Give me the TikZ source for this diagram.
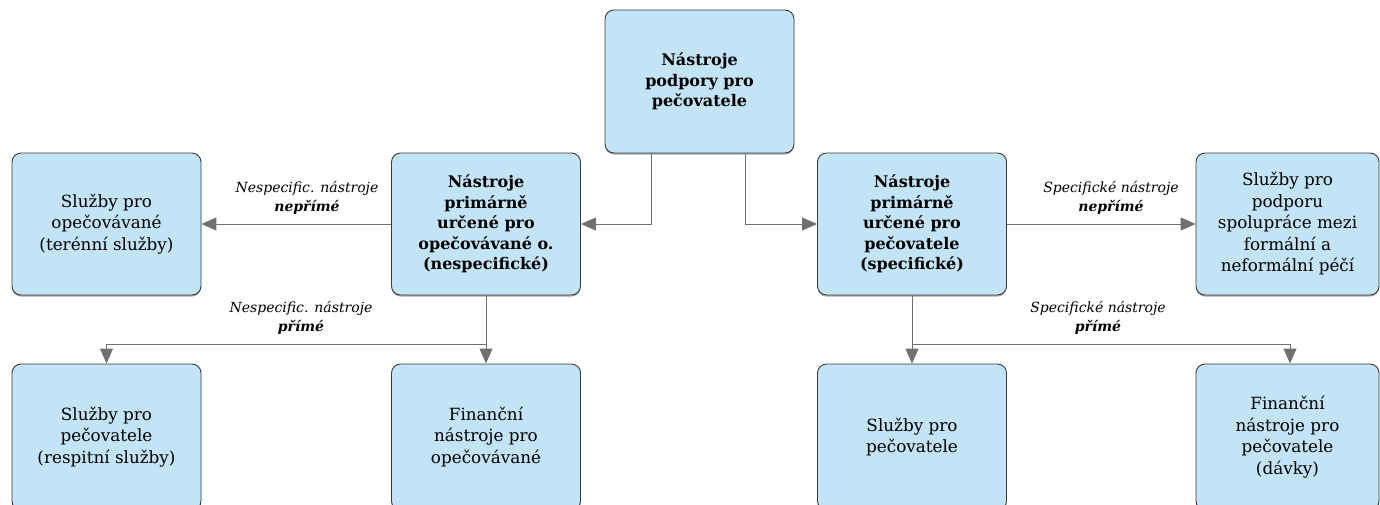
\documentclass[tikz,border=0pt]{standalone}
\usepackage{fontspec}
\setmainfont{DejaVu Serif}
\usetikzlibrary{arrows.meta,shadows}
\definecolor{boxfill}{HTML}{C2E4F6}
\definecolor{boxline}{HTML}{3A3A3A}
\definecolor{conncol}{HTML}{707070}
\tikzset{
  box/.style={draw=boxline, line width=0.9pt, fill=boxfill, rounded corners=9pt,
    align=center, inner sep=0pt, font=\fontsize{16.8}{21.5}\selectfont,
    drop shadow={shadow xshift=0pt, shadow yshift=-1.5pt, opacity=0.35, fill=black}},
  bbox/.style={box, font=\fontsize{16}{20.6}\selectfont\bfseries},
  conn/.style={draw=conncol, line width=1pt,
    -{Triangle[width=13pt,length=15pt]}, color=conncol},
  lbl/.style={align=center, font=\fontsize{14}{19}\selectfont\itshape, inner sep=0pt}
}
\begin{document}
\begin{tikzpicture}[x=1pt,y=-1pt]
\useasboundingbox (0,0) rectangle (1380,504);
\node[bbox, minimum width=189pt, minimum height=143pt] (top) at (699.5,81.5)
  {Nástroje\\podpory pro\\pečovatele};
\node[box, minimum width=189pt, minimum height=142pt] (A) at (106.5,224)
  {Služby pro\\opečovávané\\(terénní služby)};
\node[bbox, minimum width=189pt, minimum height=142pt] (B) at (486,224)
  {Nástroje\\primárně\\určené pro\\opečovávané o.\\(nespecifické)};
\node[bbox, minimum width=189pt, minimum height=142pt] (C) at (912,224)
  {Nástroje\\primárně\\určené pro\\pečovatele\\(specifické)};
\node[box, minimum width=183pt, minimum height=142pt] (D) at (1287.5,224)
  {Služby pro\\podporu\\spolupráce mezi\\formální a\\neformální péčí};
\node[box, minimum width=189pt, minimum height=146pt] (E) at (106.5,437)
  {Služby pro\\pečovatele\\(respitní služby)};
\node[box, minimum width=189pt, minimum height=146pt] (F) at (486,437)
  {Finanční\\nástroje pro\\opečovávané};
\node[box, minimum width=189pt, minimum height=146pt] (G) at (912,437)
  {Služby pro\\pečovatele};
\node[box, minimum width=183pt, minimum height=146pt] (H) at (1287.5,437)
  {Finanční\\nástroje pro\\pečovatele\\(dávky)};
% connectors
\coordinate (t1) at ([xshift=-48.5pt]top.south);
\coordinate (t2) at ([xshift=45.5pt]top.south);
\draw[conn] (t1) |- (B.east);
\draw[conn] (t2) |- (C.west);
\draw[conn] (B.west) -- (A.east);
\draw[conn] (C.east) -- (D.west);
\coordinate (j1) at (486,344);
\coordinate (j2) at (912,344);
\draw[conn] (B.south) -- (F.north);
\draw[conn] (j1) -| (E.north);
\draw[conn] (C.south) -- (G.north);
\draw[conn] (j2) -| ([xshift=2.5pt]H.north);
% labels
\node[lbl] (l1) at (307,198) {Nespecific. nástroje\\\textbf{nepřímé}};
\node[lbl] (l2) at (301,318) {Nespecific. nástroje\\\textbf{přímé}};
\node[lbl] (l3) at (1111,198) {Specifické nástroje\\\textbf{nepřímé}};
\node[lbl] (l4) at (1098,318) {Specifické nástroje\\\textbf{přímé}};
\end{tikzpicture}
\end{document}
